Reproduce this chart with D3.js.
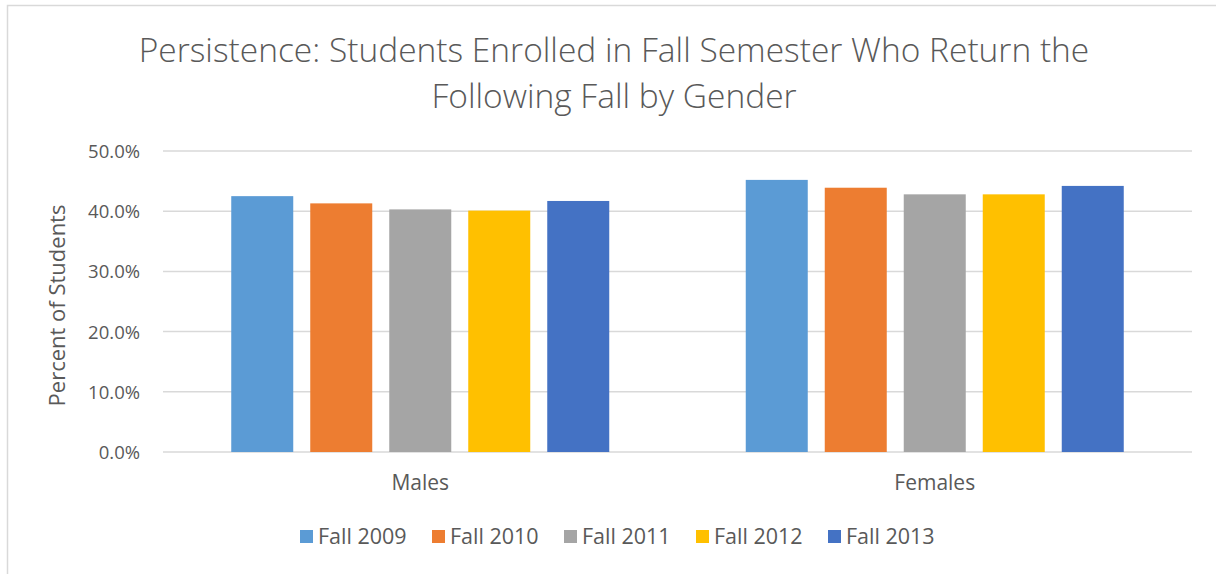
<!DOCTYPE html>
<html>
<head>
<meta charset="utf-8">
<script src="https://cdn.jsdelivr.net/npm/d3@7"></script>
<style>
  body { margin: 0; background: white; }
  svg { display: block; font-family: "Open Sans", "Noto Sans", sans-serif; }
</style>
</head>
<body>
<svg id="chart" width="1216" height="574"></svg>
<script>
// data
var groups = ["Males", "Females"];
var years = ["Fall 2009", "Fall 2010", "Fall 2011", "Fall 2012", "Fall 2013"];
var males = [0.425, 0.413, 0.403, 0.401, 0.417];
var females = [0.452, 0.439, 0.428, 0.428, 0.442];
var yTicks = [0, 0.1, 0.2, 0.3, 0.4, 0.5];
var colors = ["#5B9BD5", "#ED7D31", "#A5A5A5", "#FFC000", "#4472C4"];
var titleLines = ["Persistence: Students Enrolled in Fall Semester Who Return the",
                  "Following Fall by Gender"];

var TEXT_COLOR = "#595959",
    GRID_COLOR = "#d9d9d9",
    PLOT = {left: 163, right: 1192, top: 151, bottom: 452};

var values = {Males: males, Females: females};

var svg = d3.select("#chart");

// outer border of chart area
svg.append("rect")
    .attr("x", 7.5)
    .attr("y", 5.5)
    .attr("width", 1300)
    .attr("height", 700)
    .style("fill", "white")
    .style("stroke", GRID_COLOR)
    .style("stroke-width", 1.5);

var x = d3.scaleBand()
    .domain(groups)
    .range([PLOT.left, PLOT.right]);
var groupW = 378;
var x1 = d3.scaleBand()
    .domain(years)
    .range([(x.bandwidth() - groupW) / 2, (x.bandwidth() + groupW) / 2])
    .paddingInner(17 / 79);
var y = d3.scaleLinear()
    .domain([0, 0.5])
    .range([PLOT.bottom, PLOT.top]);

// title
svg.selectAll(".title")
    .data(titleLines)
  .enter().append("text")
    .attr("class", "title")
    .attr("x", 614)
    .attr("y", function(d, i) { return 62 + i * 46; })
    .style("font-size", "33.5px")
    .style("font-weight", 300)
    .style("fill", TEXT_COLOR)
    .style("text-anchor", "middle")
    .text(function(d) { return d; });

// gridlines
svg.append("g")
    .selectAll("line")
    .data(yTicks)
  .enter().append("line")
    .attr("x1", PLOT.left)
    .attr("x2", PLOT.right)
    .attr("y1", function(d) { return y(d); })
    .attr("y2", function(d) { return y(d); })
    .style("stroke", GRID_COLOR)
    .style("stroke-width", 1.5);

// y axis labels
var yAxis = svg.append("g")
    .attr("transform", "translate(" + (PLOT.left - 23) + ",0)")
    .call(d3.axisLeft(y).tickValues(yTicks).tickFormat(d3.format(".1%")).tickSize(0).tickPadding(0));
yAxis.select(".domain").remove();
yAxis.selectAll("text")
    .attr("dy", "0.35em")
    .style("font-size", "18.5px")
    .style("font-family", "\"Open Sans\", sans-serif")
    .style("fill", TEXT_COLOR);

svg.append("text")
    .attr("transform", "translate(65," + ((PLOT.top + PLOT.bottom) / 2 + 4) + ") rotate(-90)")
    .style("font-size", "22px")
    .style("fill", TEXT_COLOR)
    .style("text-anchor", "middle")
    .text("Percent of Students");

// bars
var g = svg.selectAll(".group")
    .data(groups)
  .enter().append("g")
    .attr("class", "group")
    .attr("transform", function(d) { return "translate(" + x(d) + ",0)"; });
g.selectAll("rect")
    .data(function(d) { return values[d].map(function(v, i) { return {year: years[i], v: v}; }); })
  .enter().append("rect")
    .attr("x", function(d) { return x1(d.year); })
    .attr("width", x1.bandwidth())
    .attr("y", function(d) { return y(d.v); })
    .attr("height", function(d) { return y(0) - y(d.v); })
    .style("fill", function(d, i) { return colors[i]; });

// category labels
svg.selectAll(".cat")
    .data(groups)
  .enter().append("text")
    .attr("class", "cat")
    .attr("x", function(d) { return x(d) + x.bandwidth() / 2; })
    .attr("y", 490)
    .style("font-size", "21px")
    .style("fill", TEXT_COLOR)
    .style("text-anchor", "middle")
    .text(function(d) { return d; });

// legend
var leg = svg.selectAll(".leg")
    .data(years)
  .enter().append("g")
    .attr("class", "leg")
    .attr("transform", function(d, i) { return "translate(" + (300 + i * 132) + ",530)"; });
leg.append("rect")
    .attr("width", 13)
    .attr("height", 13)
    .style("fill", function(d, i) { return colors[i]; });
leg.append("text")
    .attr("x", 18)
    .attr("y", 14)
    .style("font-size", "21.5px")
    .style("fill", TEXT_COLOR)
    .text(function(d) { return d; });
</script>
</body>
</html>
